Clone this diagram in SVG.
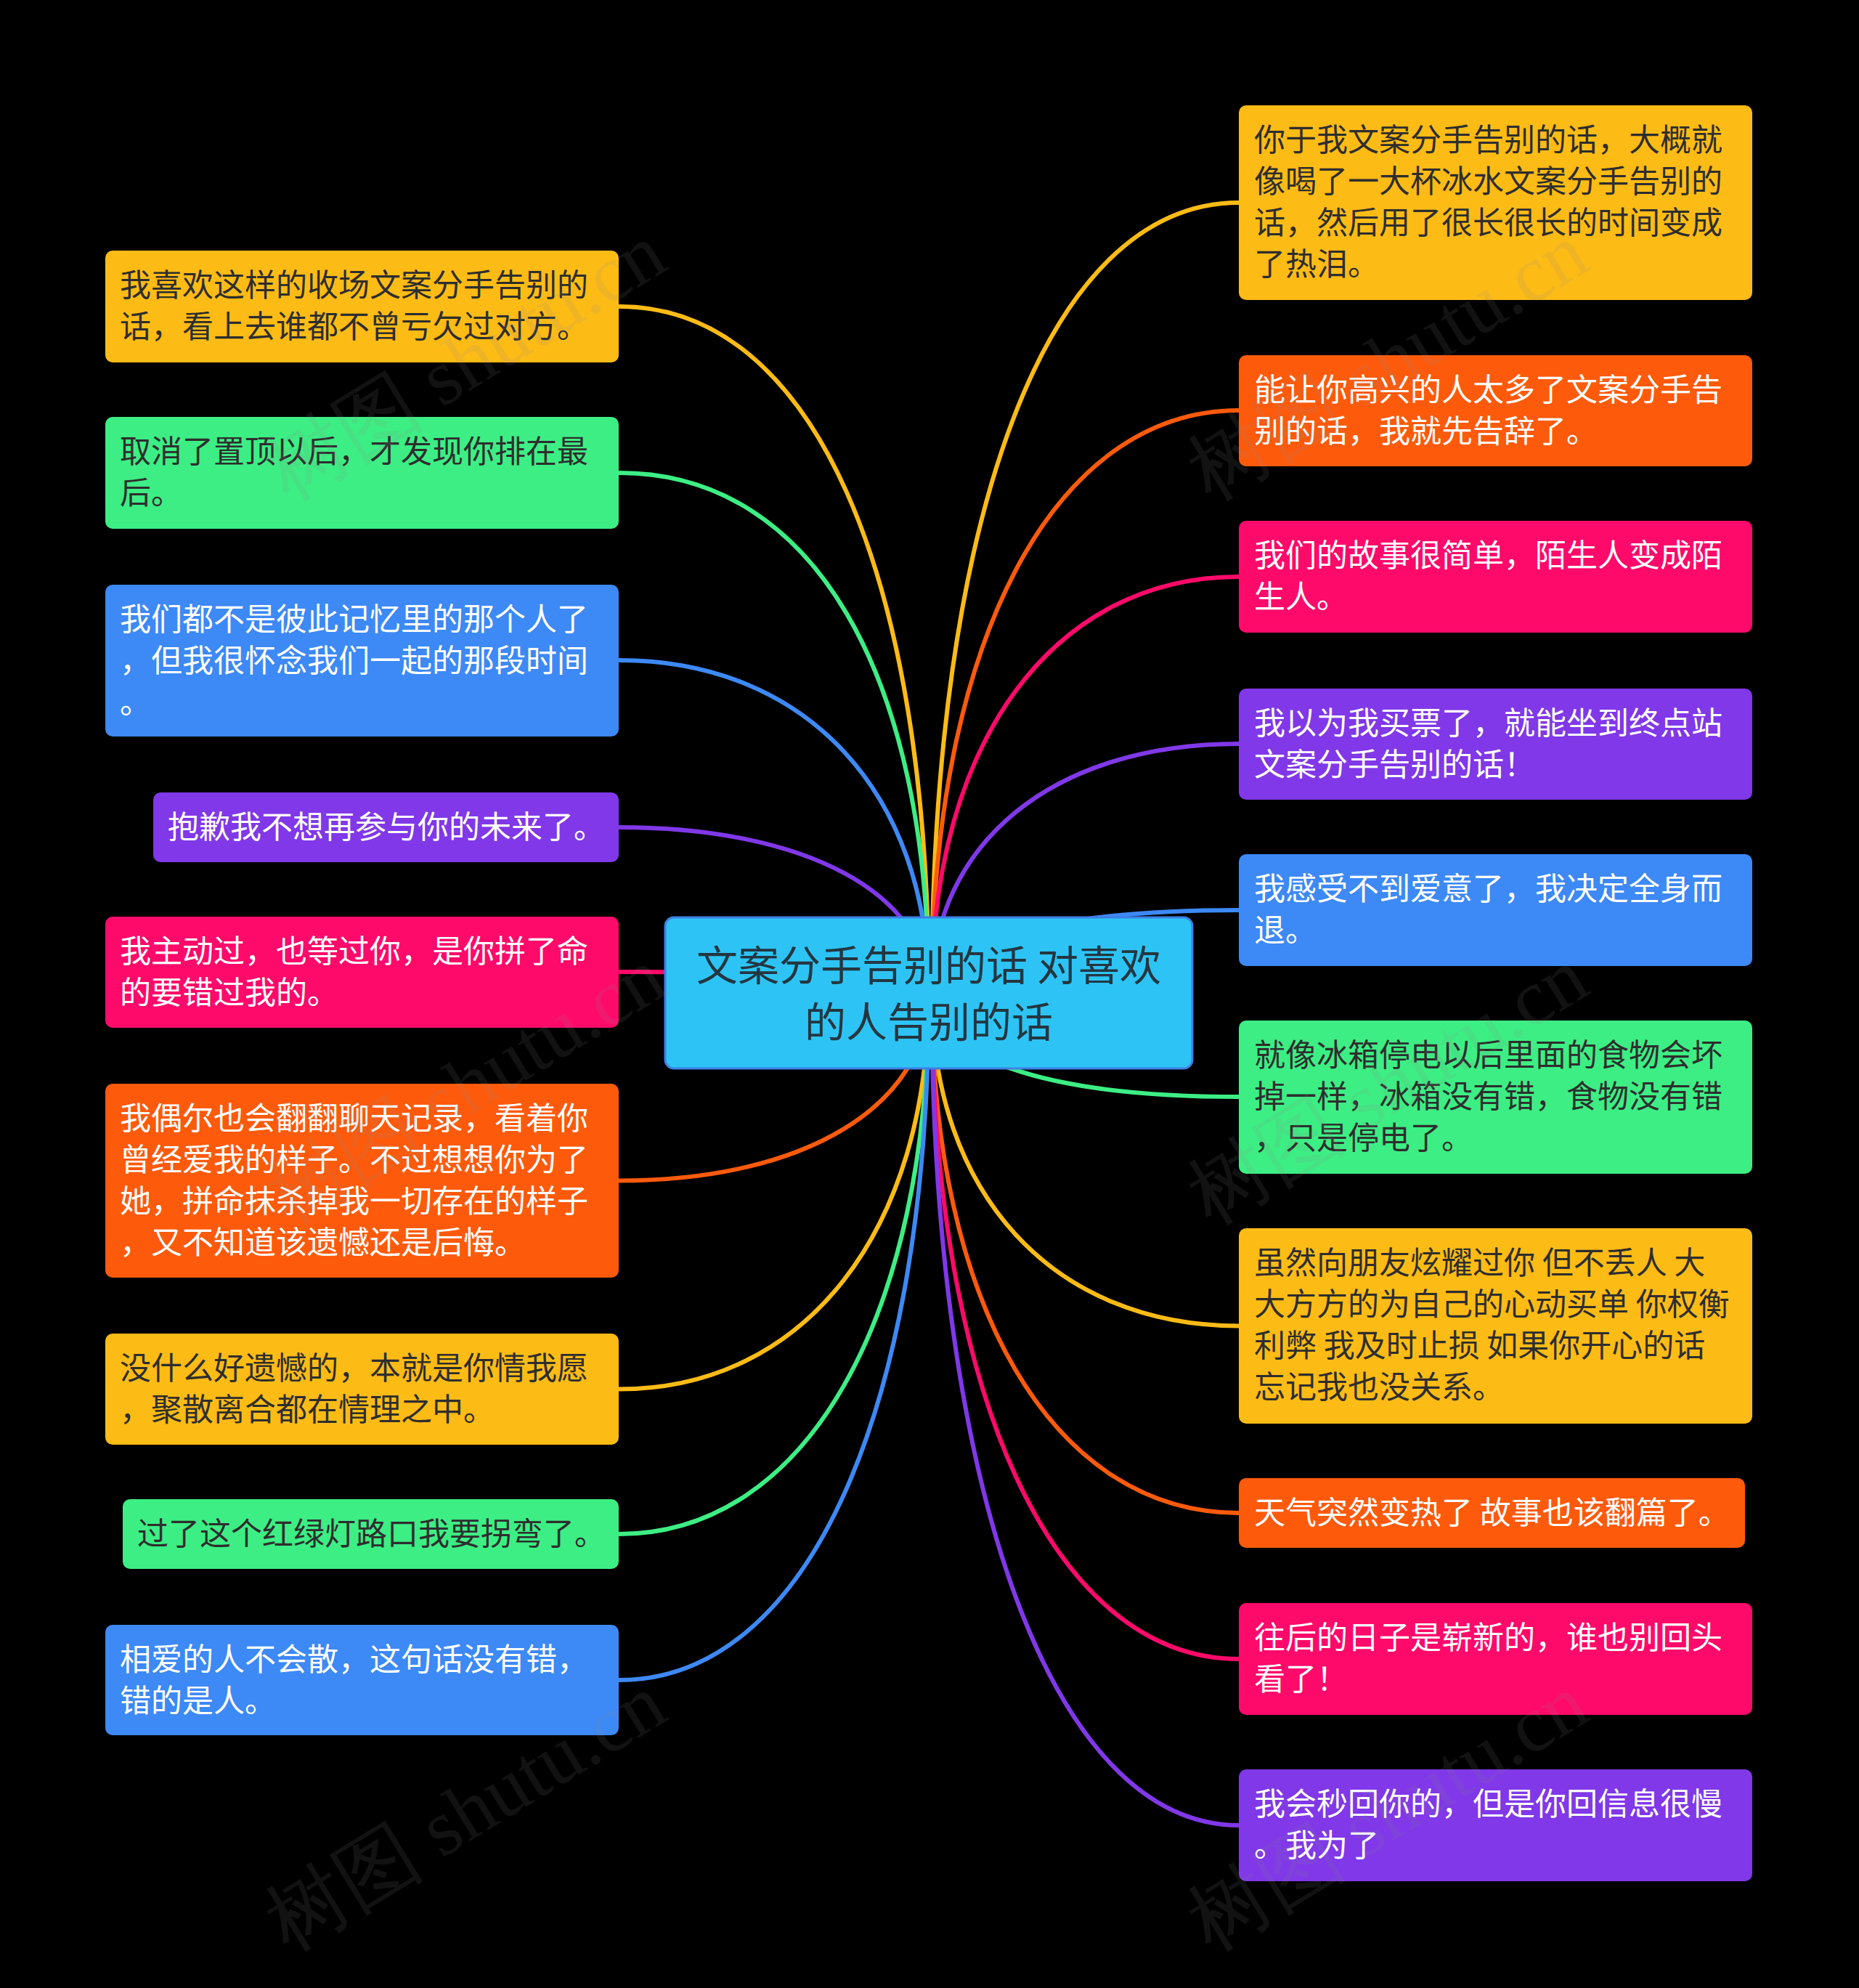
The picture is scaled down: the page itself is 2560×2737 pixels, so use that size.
<svg xmlns="http://www.w3.org/2000/svg" width="2560" height="2737" viewBox="0 0 2560 2737">
<style>
.bg{fill:#000}
.lk{fill:none;stroke-width:6;stroke-linecap:round}
.t{font-family:"Noto Sans CJK SC","Noto Sans",sans-serif;font-size:43px}
.dk{fill:#2e2e2e}
.wt{fill:#ffffff}
.y{fill:#FDBB16}.g{fill:#3DEE84}.b{fill:#3D89F5}.p{fill:#8038E8}.r{fill:#FE0A6A}.o{fill:#FD5A0C}
.sy{stroke:#FDBB16}.sg{stroke:#3DEE84}.sb{stroke:#3D89F5}.sp{stroke:#8038E8}.sr{stroke:#FE0A6A}.so{stroke:#FD5A0C}
.wm{font-family:"Liberation Serif","DejaVu Serif",serif;font-size:110px;fill:#888;fill-opacity:0.13}
</style>
<rect class="bg" x="0" y="0" width="2560" height="2737"/>
<g id="connectors">
<path class="lk sy" d="M853,422 C1120,422 1279,790 1279,1367"/>
<path class="lk sg" d="M853,651 C1120,651 1279,930 1279,1367"/>
<path class="lk sb" d="M853,909 C1110,909 1279,1092.2 1279,1367"/>
<path class="lk sp" d="M853,1139 C1108.6,1139 1279,1230.2 1279,1367"/>
<path class="lk sr" d="M853,1338 C1108.6,1338 1279,1349.6 1279,1367"/>
<path class="lk so" d="M853,1625.5 C1108.6,1625.5 1279,1522.1 1279,1367"/>
<path class="lk sy" d="M853,1912.5 C1108.6,1912.5 1279,1694.3 1279,1367"/>
<path class="lk sg" d="M853,2112 C1110,2112 1279,1814 1279,1367"/>
<path class="lk sb" d="M853,2313 C1115,2313 1279,1934.6 1279,1367"/>
<path class="lk sy" d="M1706,279 C1440,279 1283,714.2 1283,1367"/>
<path class="lk so" d="M1706,565 C1449.8,565 1283,885.8 1283,1367"/>
<path class="lk sr" d="M1706,794 C1449.8,794 1283,1023.2 1283,1367"/>
<path class="lk sp" d="M1706,1024 C1449.8,1024 1283,1161.2 1283,1367"/>
<path class="lk sb" d="M1706,1253 C1449.8,1253 1283,1298.6 1283,1367"/>
<path class="lk sg" d="M1706,1510 C1430,1510 1283,1452.8 1283,1367"/>
<path class="lk sy" d="M1706,1825.5 C1449.8,1825.5 1283,1642.1 1283,1367"/>
<path class="lk so" d="M1706,2083 C1449.8,2083 1283,1796.6 1283,1367"/>
<path class="lk sr" d="M1706,2284 C1449.8,2284 1283,1917.2 1283,1367"/>
<path class="lk sp" d="M1706,2513 C1449.8,2513 1283,2054.6 1283,1367"/>
</g>
<g id="center">
<rect x="916" y="1263" width="726" height="208" rx="12" fill="#2DC4F5" stroke="#3F7FE6" stroke-width="3"/>
<text x="1279" y="1350" text-anchor="middle" font-family="Noto Sans CJK SC, sans-serif" font-size="57" fill="#243640">文案分手告别的话 对喜欢</text>
<text x="1279" y="1428" text-anchor="middle" font-family="Noto Sans CJK SC, sans-serif" font-size="57" fill="#243640">的人告别的话</text>
</g>
<g id="L1"><rect class="y" x="145" y="345" width="707" height="154" rx="10"/>
<text class="t dk" x="165" y="408">我喜欢这样的收场文案分手告别的</text><text class="t dk" x="165" y="465">话，看上去谁都不曾亏欠过对方。</text></g>
<g id="L2"><rect class="g" x="145" y="574" width="707" height="154" rx="10"/>
<text class="t dk" x="165" y="637">取消了置顶以后，才发现你排在最</text><text class="t dk" x="165" y="694">后。</text></g>
<g id="L3"><rect class="b" x="145" y="805" width="707" height="209" rx="10"/>
<text class="t wt" x="165" y="868">我们都不是彼此记忆里的那个人了</text><text class="t wt" x="165" y="925">，但我很怀念我们一起的那段时间</text><text class="t wt" x="165" y="982">。</text></g>
<g id="L4"><rect class="p" x="211" y="1091" width="641" height="96" rx="10"/>
<text class="t wt" x="231" y="1154">抱歉我不想再参与你的未来了。</text></g>
<g id="L5"><rect class="r" x="145" y="1262" width="707" height="153" rx="10"/>
<text class="t wt" x="165" y="1325">我主动过，也等过你，是你拼了命</text><text class="t wt" x="165" y="1382">的要错过我的。</text></g>
<g id="L6"><rect class="o" x="145" y="1492" width="707" height="267" rx="10"/>
<text class="t wt" x="165" y="1555">我偶尔也会翻翻聊天记录，看着你</text><text class="t wt" x="165" y="1612">曾经爱我的样子。不过想想你为了</text><text class="t wt" x="165" y="1669">她，拼命抹杀掉我一切存在的样子</text><text class="t wt" x="165" y="1726">，又不知道该遗憾还是后悔。</text></g>
<g id="L7"><rect class="y" x="145" y="1836" width="707" height="153" rx="10"/>
<text class="t dk" x="165" y="1899">没什么好遗憾的，本就是你情我愿</text><text class="t dk" x="165" y="1956">，聚散离合都在情理之中。</text></g>
<g id="L8"><rect class="g" x="169" y="2064" width="683" height="96" rx="10"/>
<text class="t dk" x="189" y="2127">过了这个红绿灯路口我要拐弯了。</text></g>
<g id="L9"><rect class="b" x="145" y="2237" width="707" height="152" rx="10"/>
<text class="t wt" x="165" y="2300">相爱的人不会散，这句话没有错，</text><text class="t wt" x="165" y="2357">错的是人。</text></g>
<g id="R1"><rect class="y" x="1706" y="145" width="707" height="268" rx="10"/>
<text class="t dk" x="1727" y="208">你于我文案分手告别的话，大概就</text><text class="t dk" x="1727" y="265">像喝了一大杯冰水文案分手告别的</text><text class="t dk" x="1727" y="322">话，然后用了很长很长的时间变成</text><text class="t dk" x="1727" y="379">了热泪。</text></g>
<g id="R2"><rect class="o" x="1706" y="489" width="707" height="153" rx="10"/>
<text class="t wt" x="1727" y="552">能让你高兴的人太多了文案分手告</text><text class="t wt" x="1727" y="609">别的话，我就先告辞了。</text></g>
<g id="R3"><rect class="r" x="1706" y="717" width="707" height="154" rx="10"/>
<text class="t wt" x="1727" y="780">我们的故事很简单，陌生人变成陌</text><text class="t wt" x="1727" y="837">生人。</text></g>
<g id="R4"><rect class="p" x="1706" y="948" width="707" height="153" rx="10"/>
<text class="t wt" x="1727" y="1011">我以为我买票了，就能坐到终点站</text><text class="t wt" x="1727" y="1068">文案分手告别的话！</text></g>
<g id="R5"><rect class="b" x="1706" y="1176" width="707" height="154" rx="10"/>
<text class="t wt" x="1727" y="1239">我感受不到爱意了，我决定全身而</text><text class="t wt" x="1727" y="1296">退。</text></g>
<g id="R6"><rect class="g" x="1706" y="1405" width="707" height="211" rx="10"/>
<text class="t dk" x="1727" y="1468">就像冰箱停电以后里面的食物会坏</text><text class="t dk" x="1727" y="1525">掉一样，冰箱没有错，食物没有错</text><text class="t dk" x="1727" y="1582">，只是停电了。</text></g>
<g id="R7"><rect class="y" x="1706" y="1691" width="707" height="269" rx="10"/>
<text class="t dk" x="1727" y="1754">虽然向朋友炫耀过你 但不丢人 大</text><text class="t dk" x="1727" y="1811">大方方的为自己的心动买单 你权衡</text><text class="t dk" x="1727" y="1868">利弊 我及时止损 如果你开心的话</text><text class="t dk" x="1727" y="1925">忘记我也没关系。</text></g>
<g id="R8"><rect class="o" x="1706" y="2035" width="697" height="96" rx="10"/>
<text class="t wt" x="1727" y="2098">天气突然变热了 故事也该翻篇了。</text></g>
<g id="R9"><rect class="r" x="1706" y="2207" width="707" height="154" rx="10"/>
<text class="t wt" x="1727" y="2270">往后的日子是崭新的，谁也别回头</text><text class="t wt" x="1727" y="2327">看了！</text></g>
<g id="R10"><rect class="p" x="1706" y="2436" width="707" height="154" rx="10"/>
<text class="t wt" x="1727" y="2499">我会秒回你的，但是你回信息很慢</text><text class="t wt" x="1727" y="2556">。我为了</text></g>
<g id="watermarks">
<text class="wm" text-anchor="middle" transform="translate(660,530) rotate(-31.5)">树图 shutu.cn</text>
<text class="wm" text-anchor="middle" transform="translate(660,1527) rotate(-31.5)">树图 shutu.cn</text>
<text class="wm" text-anchor="middle" transform="translate(660,2527) rotate(-31.5)">树图 shutu.cn</text>
<text class="wm" text-anchor="middle" transform="translate(1930,530) rotate(-31.5)">树图 shutu.cn</text>
<text class="wm" text-anchor="middle" transform="translate(1930,1527) rotate(-31.5)">树图 shutu.cn</text>
<text class="wm" text-anchor="middle" transform="translate(1930,2527) rotate(-31.5)">树图 shutu.cn</text>
</g>
</svg>
